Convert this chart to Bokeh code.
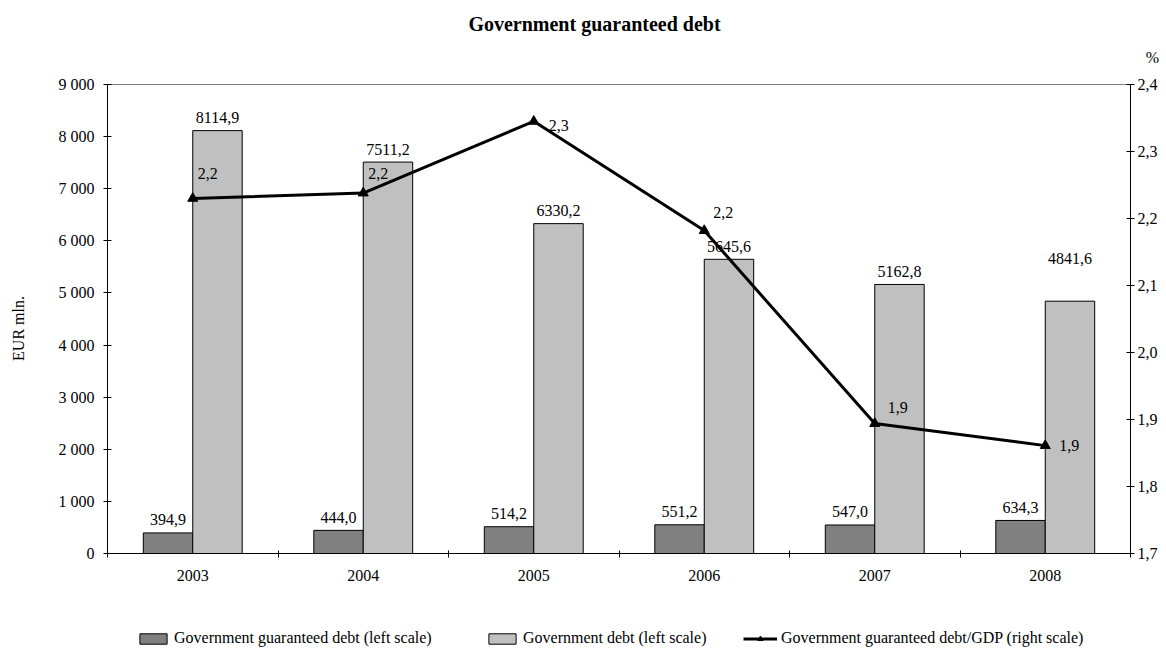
import math
from bokeh.plotting import figure
from bokeh.models import (Range1d, LinearAxis, FixedTicker, CustomJSTickFormatter,
                          ColumnDataSource, Label, Legend, LegendItem)
from bokeh.embed import file_html
from bokeh.resources import INLINE
from bokeh.core.properties import value

# ---- data ----
years = ["2003", "2004", "2005", "2006", "2007", "2008"]
guaranteed_debt = [394.9, 444.0, 514.2, 551.2, 547.0, 634.3]
government_debt = [8114.9, 7511.2, 6330.2, 5645.6, 5162.8, 4841.6]
debt_to_gdp = [2.23, 2.238, 2.345, 2.182, 1.894, 1.861]
left_ticks = [0, 1000, 2000, 3000, 4000, 5000, 6000, 7000, 8000, 9000]
right_ticks = [1.7, 1.8, 1.9, 2.0, 2.1, 2.2, 2.3, 2.4]

title_text = "Government guaranteed debt"
y_label_text = "EUR mln."
unit_text = "%"
series_names = ["Government guaranteed debt (left scale)",
                "Government debt (left scale)",
                "Government guaranteed debt/GDP (right scale)"]

FONT = "Liberation Serif"
FS = "16px"

# ---- layout (pixels) ----
W, H = 1166, 648
PX_L, PX_R, PX_T, PX_B = 107, 1130, 84, 553   # plot area inside the canvas


def fmt(v):
    return f"{v:.1f}".replace(".", ",")


n = len(years)
L_MIN, L_MAX = left_ticks[0], left_ticks[-1]
R_MIN, R_MAX = right_ticks[0], right_ticks[-1]

# whole canvas is the frame; ranges extended so the plot area sits at PX_*
xs = n / (PX_R - PX_L)
ly = (L_MAX - L_MIN) / (PX_B - PX_T)
ry = (R_MAX - R_MIN) / (PX_B - PX_T)
x_range = Range1d(0 - PX_L * xs, n + (W - PX_R) * xs)
y_range = Range1d(L_MIN - (H - PX_B) * ly, L_MAX + PX_T * ly)
pct_range = Range1d(R_MIN - (H - PX_B) * ry, R_MAX + PX_T * ry)

BAR_W = 0.29
xc = [i + 0.5 for i in range(n)]
x_dark = [c - BAR_W / 2 for c in xc]
x_light = [c + BAR_W / 2 for c in xc]

p = figure(width=W, height=H, output_backend="svg", toolbar_location=None,
           title=None, x_range=x_range, y_range=y_range, min_border=0,
           x_axis_location=None, y_axis_location=None)
p.extra_y_ranges = {"pct": pct_range}
p.xgrid.visible = False
p.ygrid.visible = False
p.outline_line_color = None
p.background_fill_color = "white"
p.border_fill_color = "white"

# x axis at y = 0: labels at centres, ticks at category boundaries
xa = LinearAxis(fixed_location=L_MIN, bounds=(0, n),
                ticker=FixedTicker(ticks=xc, minor_ticks=list(range(n + 1))),
                formatter=CustomJSTickFormatter(args=dict(years=years),
                                                code="return years[Math.floor(tick)];"))
xa.major_tick_in = 0
xa.major_tick_out = 0
xa.minor_tick_in = 3
xa.minor_tick_out = 4
xa.minor_tick_line_color = "black"
xa.axis_line_color = "black"
xa.major_label_standoff = 12
xa.major_label_text_font = FONT
xa.major_label_text_font_size = FS
xa.major_label_text_color = "black"
p.add_layout(xa, "below")

# grey top border of the plot area
ta = LinearAxis(fixed_location=L_MAX, bounds=(0, n), ticker=FixedTicker(ticks=[]),
                axis_line_color="#808080", major_tick_line_color=None,
                minor_tick_line_color=None, major_label_text_font_size="0px")
p.add_layout(ta, "above")

# left axis
ya = LinearAxis(fixed_location=0, bounds=(L_MIN, L_MAX),
                ticker=FixedTicker(ticks=left_ticks),
                formatter=CustomJSTickFormatter(
                    code="return tick.toFixed(0).replace(/\\B(?=(\\d{3})+(?!\\d))/g, ' ');"))
ya.major_tick_in = 4
ya.major_tick_out = 4
ya.minor_tick_line_color = None
ya.axis_line_color = "black"
ya.major_tick_line_color = "black"
ya.major_label_standoff = 9
ya.major_label_text_font = FONT
ya.major_label_text_font_size = FS
ya.major_label_text_color = "black"
p.add_layout(ya, "left")

# right axis
ra = LinearAxis(y_range_name="pct", fixed_location=n, bounds=(R_MIN, R_MAX),
                ticker=FixedTicker(ticks=right_ticks),
                formatter=CustomJSTickFormatter(
                    code="return tick.toFixed(1).replace('.', ',');"))
ra.major_tick_in = 4
ra.major_tick_out = 4
ra.minor_tick_line_color = None
ra.axis_line_color = "black"
ra.major_tick_line_color = "black"
ra.major_label_standoff = 3
ra.major_label_text_font = FONT
ra.major_label_text_font_size = FS
ra.major_label_text_color = "black"
p.add_layout(ra, "right")

# bars
dark_src = ColumnDataSource(dict(x=x_dark, top=guaranteed_debt,
                                 label=[fmt(v) for v in guaranteed_debt],
                                 dy=[-13] * n))
light_dy = [-13] * n
light_dy[-1] = -43
light_src = ColumnDataSource(dict(x=x_light, top=government_debt,
                                  label=[fmt(v) for v in government_debt],
                                  dy=light_dy))
r_dark = p.vbar(x="x", top="top", bottom=0, width=BAR_W, source=dark_src,
                fill_color="#808080", line_color="black", line_width=1)
r_light = p.vbar(x="x", top="top", bottom=0, width=BAR_W, source=light_src,
                 fill_color="#C0C0C0", line_color="black", line_width=1)

# line
line_src = ColumnDataSource(dict(x=xc, y=debt_to_gdp,
                                 label=[fmt(v) for v in debt_to_gdp],
                                 dx=[5, 5, 15, 9, 13, 14],
                                 dy=[-25, -20, 4, -18, -16, 0]))
r_line = p.line(x="x", y="y", source=line_src, y_range_name="pct",
                line_color="black", line_width=3)
r_pts = p.scatter(x="x", y="y", source=line_src, y_range_name="pct",
                  marker="triangle", size=10, fill_color="black",
                  line_color="black")

# data labels
for src in (dark_src, light_src):
    p.text(x="x", y="top", text="label", source=src, y_offset="dy",
           text_font=value(FONT), text_font_size=FS, text_color="black",
           text_align="center", text_baseline="middle")
p.text(x="x", y="y", text="label", source=line_src, y_range_name="pct",
       x_offset="dx", y_offset="dy",
       text_font=value(FONT), text_font_size=FS, text_color="black",
       text_align="left", text_baseline="middle")

# title, unit and axis title
p.add_layout(Label(x=n / 2, y=L_MAX, x_offset=-24.5, y_offset=61, text=title_text,
                   text_font=FONT, text_font_size="20px", text_font_style="bold",
                   text_align="center", text_baseline="middle", text_color="black"))
p.add_layout(Label(x=n, y=R_MAX, y_range_name="pct", x_offset=22, y_offset=27,
                   text=unit_text, text_font=FONT, text_font_size=FS,
                   text_align="center", text_baseline="middle", text_color="black"))
p.add_layout(Label(x=0, y=(L_MIN + L_MAX) / 2, x_offset=-89, y_offset=-9.5,
                   text=y_label_text, angle=math.pi / 2, text_font=FONT,
                   text_font_size=FS, text_align="center", text_baseline="middle",
                   text_color="black"))

# legends below the x axis
legend_specs = [([r_dark], series_names[0], 136),
                ([r_light], series_names[1], 485),
                ([r_line, r_pts], series_names[2], 743)]
for rends, name, vx in legend_specs:
    lg = Legend(items=[LegendItem(label=name, renderers=rends)],
                location=(vx, 1), orientation="horizontal",
                border_line_color=None, background_fill_alpha=0,
                padding=0, margin=0, spacing=0, label_standoff=4,
                glyph_width=34, glyph_height=13, label_height=16,
                label_text_font=FONT, label_text_font_size=FS,
                label_text_color="black")
    p.add_layout(lg, "center")

open("out.html", "w").write(file_html(p, INLINE))
